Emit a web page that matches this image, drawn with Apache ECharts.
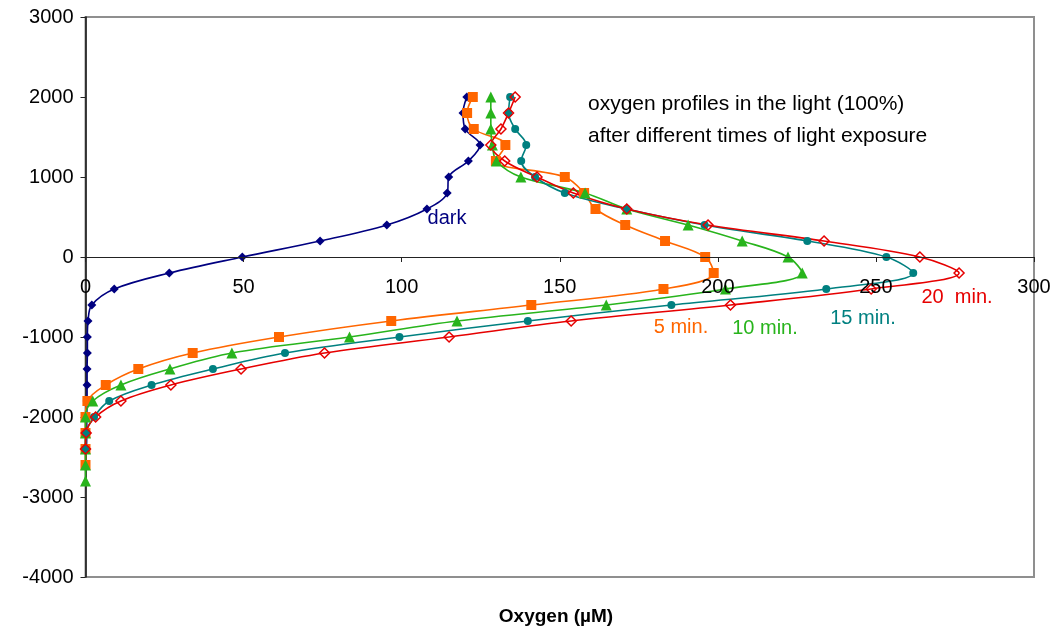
<!DOCTYPE html>
<html>
<head>
<meta charset="utf-8">
<script src="https://cdn.jsdelivr.net/npm/echarts@6/dist/echarts.min.js"></script>
<style>
html,body{margin:0;padding:0;background:#fff;}
#chart{width:1055px;height:633px;}
</style>
</head>
<body>
<div id="chart"></div>
<script>
// depth steps (y) for every profile, top to bottom
var depthDark = [2000,1800,1600,1400,1200,1000,800,600,400,200,0,-200,-400,-600,-800,-1000,-1200,-1400,-1600,-1800,-2000,-2200,-2400];
var depth5 = [2000,1800,1600,1400,1200,1000,800,600,400,200,0,-200,-400,-600,-800,-1000,-1200,-1400,-1600,-1800,-2000,-2200,-2400,-2600];
var depth10 = [2000,1800,1600,1400,1200,1000,800,600,400,200,0,-200,-400,-600,-800,-1000,-1200,-1400,-1600,-1800,-2000,-2200,-2400,-2600,-2800];
var depth15 = [2000,1800,1600,1400,1200,1000,800,600,400,200,0,-200,-400,-600,-800,-1000,-1200,-1400,-1600,-1800,-2000,-2200,-2400];
var depth20 = [2000,1800,1600,1400,1200,1000,800,600,400,200,0,-200,-400,-600,-800,-1000,-1200,-1400,-1600,-1800,-2000,-2200,-2400];

// oxygen (uM)
var oxyDark = [120.6,119.4,120.1,124.8,121.1,114.9,114.4,108,95.3,74.2,49.6,26.5,9.1,2.0,0.8,0.6,0.6,0.5,0.5,0.5,0.4,0.4,0.3];
var oxy5 = [122.5,120.7,122.8,132.8,129.8,151.6,157.7,161.3,170.7,183.3,196,198.7,182.8,141,96.7,61.2,33.9,16.7,6.4,0.6,0,0,0,0];
var oxy10 = [128.2,128.2,128.2,128.7,130,137.7,158,171.2,190.6,207.7,222.2,226.7,202.4,164.7,117.5,83.5,46.3,26.7,11.2,2.3,0,0,0,0,0];
var oxy15 = [134.3,133.8,135.9,139.4,137.8,142.2,151.6,171.2,195.8,228.3,253.3,261.8,234.3,185.3,139.9,99.3,63.1,40.3,20.9,7.5,2.7,0.2,0];
var oxy20 = [135.9,133.8,131.4,128.2,132.6,142.8,154.3,171.2,196.9,233.6,263.9,276.3,248.5,204,153.6,115,75.6,49.2,27,11.2,3.2,0.2,0];

var xTicks = [0,300,50];
var yTicks = [-4000,3000,1000];

function pairs(xs, ys){
	var out = [];
	for(var i=0;i<xs.length;i++){
		out.push([xs[i], ys[i]]);
	}
	return out;
}

var FONT = 'Liberation Sans, Arial, sans-serif';
var GRID_TOP = 17, GRID_BOTTOM = 56, CH = 633;

function profile(name, xs, ys, color, symbol, size, open){
	return {
		name: name,
		type: 'line',
		data: pairs(xs, ys),
		smooth: 0.35,
		symbol: symbol,
		symbolSize: size,
		showAllSymbol: true,
		lineStyle: {color: color, width: 1.6},
		itemStyle: open ? {color: 'rgba(255,255,255,0)', borderColor: color, borderWidth: 1.5} : {color: color},
		z: 2
	};
}

// the x axis sits at depth 0 - shift it up from the bottom of the plot by hand
var plotH = CH - GRID_TOP - GRID_BOTTOM;
var zeroShift = plotH * (0 - yTicks[0]) / (yTicks[1] - yTicks[0]);

var chart = echarts.init(document.getElementById('chart'));
var option = {
	animation: false,
	backgroundColor: '#fff',
	textStyle: {fontFamily: FONT},
	grid: {
		left: 85.5, right: 21, top: GRID_TOP, bottom: GRID_BOTTOM,
		show: true, borderColor: '#8f8f8f', borderWidth: 2, backgroundColor: 'transparent'
	},
	xAxis: {
		type: 'value',
		min: xTicks[0], max: xTicks[1], interval: xTicks[2],
		z: 5,
		offset: -zeroShift,
		axisLine: {onZero: false, lineStyle: {color: '#222', width: 1}},
		axisTick: {show: true, inside: false, length: 5, lineStyle: {color: '#222'}},
		axisLabel: {color: '#000', fontSize: 20, margin: 20, fontFamily: FONT, formatter: function(v){ return '' + v; }},
		splitLine: {show: false}
	},
	yAxis: {
		type: 'value',
		min: yTicks[0], max: yTicks[1], interval: yTicks[2],
		axisLine: {show: true, onZero: false, lineStyle: {color: '#111', width: 1.5}},
		axisTick: {show: true, length: 5, lineStyle: {color: '#222'}},
		axisLabel: {color: '#000', fontSize: 20, margin: 12, fontFamily: FONT, formatter: function(v){ return '' + v; }},
		splitLine: {show: false}
	},
	series: [
		profile('dark', oxyDark, depthDark, '#000080', 'diamond', 9, false),
		profile('5 min.', oxy5, depth5, '#FF6600', 'rect', 10, false),
		profile('10 min.', oxy10, depth10, '#28B41C', 'triangle', 11, false),
		profile('15 min.', oxy15, depth15, '#008080', 'circle', 8, false),
		profile('20 min.', oxy20, depth20, '#E60000', 'diamond', 10, true)
	],
	graphic: [
		{type: 'text', x: 588, y: 104, style: {text: 'oxygen profiles in the light (100%)', fill: '#000', font: '21px ' + FONT, verticalAlign: 'middle'}},
		{type: 'text', x: 588, y: 136, style: {text: 'after different times of light exposure', fill: '#000', font: '21px ' + FONT, verticalAlign: 'middle'}},
		{type: 'text', x: 447, y: 218, style: {text: 'dark', fill: '#000080', font: '20px ' + FONT, align: 'center', verticalAlign: 'middle'}},
		{type: 'text', x: 681, y: 327, style: {text: '5 min.', fill: '#FF6600', font: '20px ' + FONT, align: 'center', verticalAlign: 'middle'}},
		{type: 'text', x: 765, y: 328, style: {text: '10 min.', fill: '#28B41C', font: '20px ' + FONT, align: 'center', verticalAlign: 'middle'}},
		{type: 'text', x: 863, y: 318, style: {text: '15 min.', fill: '#008080', font: '20px ' + FONT, align: 'center', verticalAlign: 'middle'}},
		{type: 'text', x: 957, y: 297, style: {text: '20  min.', fill: '#E60000', font: '20px ' + FONT, align: 'center', verticalAlign: 'middle'}},
		{type: 'text', x: 556, y: 617, style: {text: 'Oxygen (µM)', fill: '#000', font: 'bold 19px ' + FONT, align: 'center', verticalAlign: 'middle'}}
	]
};
chart.setOption(option);
</script>
</body>
</html>
